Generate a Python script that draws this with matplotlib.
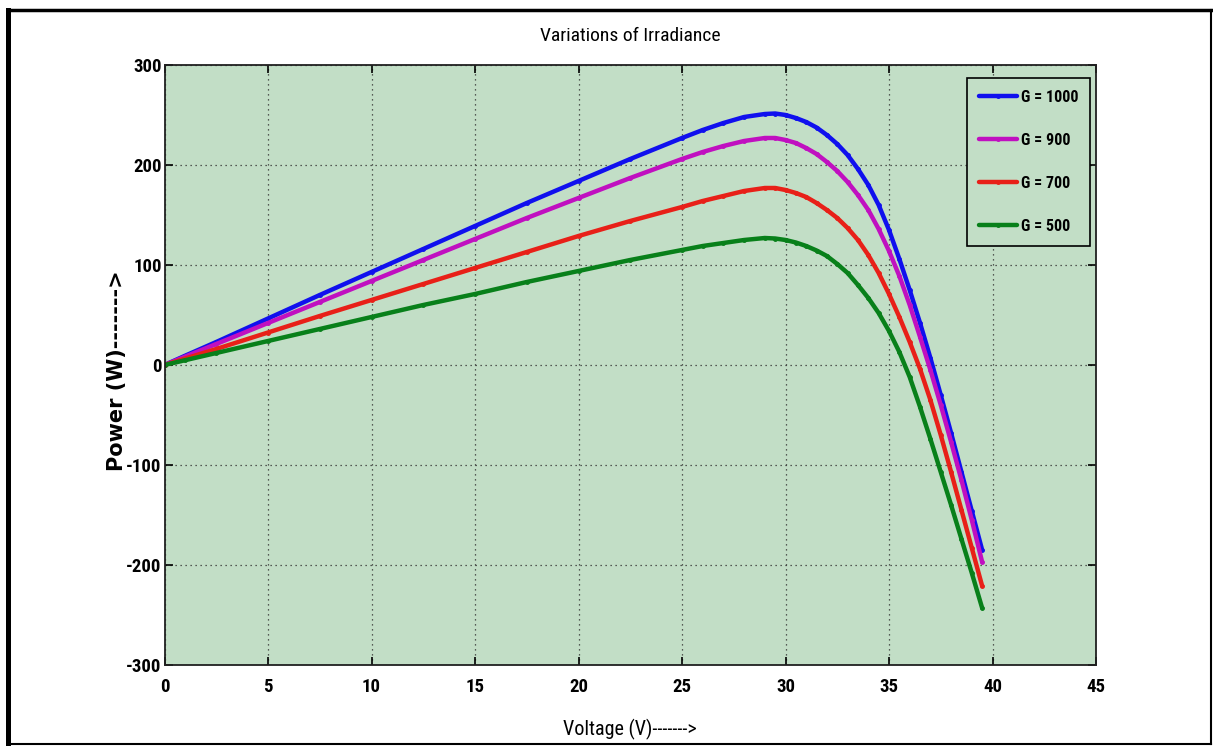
import matplotlib
matplotlib.use("Agg")
import matplotlib.pyplot as plt
from matplotlib.lines import Line2D

# ---- data ----
voltage = [0, 1, 2.5, 5, 7.5, 10, 12.5, 15, 17.5, 20, 22.5, 25, 26, 27, 28, 29, 29.5, 30,
           30.5, 31, 31.5, 32, 32.5, 33, 33.5, 34, 34.5, 35, 35.5, 36, 36.5, 37, 37.5,
           38, 38.5, 39, 39.5]
p_1000 = [0, 9.3, 23, 46.5, 70, 93, 116, 139, 162, 184, 206, 227, 235, 242, 248, 251, 251.5, 250,
          247, 243, 237.5, 230, 221, 210, 196, 180, 160, 135, 106, 75, 42, 7, -30,
          -68, -107, -146, -185]
p_900 = [0, 8.4, 21, 42, 63, 84, 105, 126, 147, 167, 187, 206, 213, 219, 224, 227, 227, 225,
         222, 217, 211, 203, 194, 183, 170, 155, 136, 114, 89, 60, 28, -5, -40,
         -77, -115, -155, -197]
p_700 = [0, 6.5, 16, 32.5, 49, 65, 81, 97, 113, 129, 144, 158, 164, 169, 174, 177, 177, 175,
         172, 168, 162, 155, 147, 137, 125, 110, 92, 71, 48, 23, -4, -35, -70,
         -107, -145, -183, -221]
p_500 = [0, 4.8, 12, 24, 36, 48, 60, 71, 83, 94, 105, 115, 119, 122, 125, 127, 126.5, 125,
         122.5, 119, 114.5, 109, 101, 92, 80, 67, 52, 34, 13, -12, -42, -74, -107,
         -140, -174, -208, -243]
series_labels = ["G = 1000", "G = 900", "G = 700", "G = 500"]
x_ticks = [0, 5, 10, 15, 20, 25, 30, 35, 40, 45]
y_ticks = [-300, -200, -100, 0, 100, 200, 300]

colors = ["#1010ee", "#c010c0", "#e82018", "#08801a"]
bg = "#c2dec6"
narrow = ["Roboto Condensed", "Open Sans Condensed", "Liberation Sans Narrow",
          "Roboto", "DejaVu Sans"]

plt.rcParams["axes.unicode_minus"] = False

fig = plt.figure(figsize=(12.13, 7.46), dpi=100)
ax = fig.add_axes([164.5 / 1213, 81 / 746, 931.5 / 1213, 600 / 746])
ax.set_facecolor(bg)

for p, c, lab in zip([p_1000, p_900, p_700, p_500], colors, series_labels):
    ax.plot(voltage, p, color=c, lw=3.2, marker=".", markersize=5, label=lab,
            solid_capstyle="round", solid_joinstyle="round")

ax.set_xlim(0, 45)
ax.set_ylim(-300, 300)
ax.set_xticks(x_ticks)
ax.set_yticks(y_ticks)
ax.grid(True, color="#303030", linestyle=(0, (1, 3)), linewidth=0.9)
ax.tick_params(direction="in", length=6, width=1.2, top=True, right=True,
               labelsize=13.5)
ax.tick_params(axis="x", pad=9)
ax.tick_params(axis="y", pad=2)
for lab in ax.get_xticklabels() + ax.get_yticklabels():
    lab.set_family(narrow)
    lab.set_fontweight("bold")
for s in ax.spines.values():
    s.set_linewidth(1.3)
    s.set_color("#202020")

ax.set_title("Variations of Irradiance", family=narrow, fontsize=14, pad=17)
ax.set_xlabel("Voltage (V)------->", family=narrow, fontsize=14.5)
ax.xaxis.set_label_coords(0.499, -0.09)
ax.set_ylabel("Power (W)------->", family="DejaVu Sans", fontsize=15,
              fontweight="bold")
ax.yaxis.set_label_coords(-0.04, 0.49)

leg = ax.legend(loc="upper right", bbox_to_anchor=(0.9936, 0.9783), borderaxespad=0,
                fancybox=False, framealpha=1, facecolor=bg, edgecolor="black",
                prop={"family": narrow, "weight": "bold", "size": 11.5},
                labelspacing=1.75, handlelength=2.4, handletextpad=0.2,
                borderpad=0.75, numpoints=1)
leg.get_frame().set_linewidth(1.2)

# outer frame of the picture
W, H = 1213, 746
def fline(x0, y0, x1, y1, lw):
    fig.add_artist(Line2D([x0 / W, x1 / W], [1 - y0 / H, 1 - y1 / H],
                          transform=fig.transFigure, color="black", lw=lw,
                          solid_capstyle="projecting"))
fline(7.5, 9.5, 7.5, 744, 3.6)
fline(7.5, 9.5, 1211, 9.5, 2.5)
fline(1211, 9.5, 1211, 744, 1.5)
fline(7.5, 744, 1211, 744, 1.5)

fig.savefig("out.png", dpi=100)
